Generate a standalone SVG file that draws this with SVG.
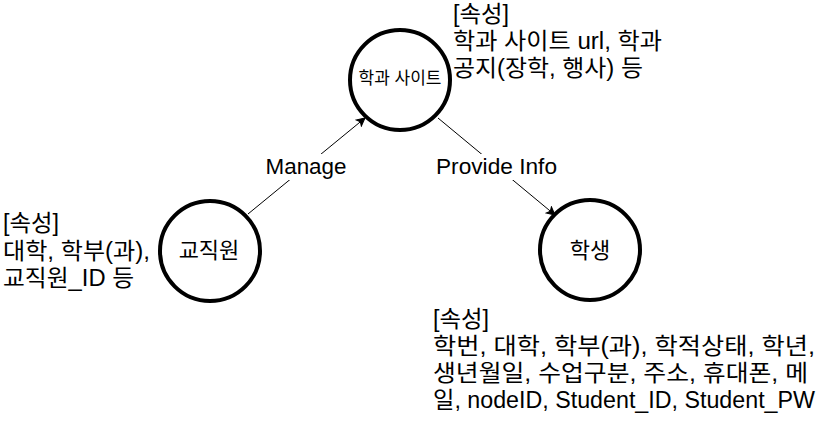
<svg xmlns="http://www.w3.org/2000/svg" width="822" height="423" viewBox="0 0 822 423">
<defs>
<style>
text{font-family:"Liberation Sans","Noto Sans CJK KR",sans-serif;fill:#000}
.t{font-size:23px}
.c{font-size:22px;text-anchor:middle}
.s{font-size:17px;text-anchor:middle}
.node{fill:#fff;stroke:#000;stroke-width:4}
.edge{stroke:#000;stroke-width:1;fill:none}
</style>
<marker id="arr" markerWidth="10" markerHeight="10" refX="9" refY="5" orient="auto" markerUnits="userSpaceOnUse">
<path d="M1,1 L9,5 L1,9 L3,5 Z" fill="#000" stroke="#000" stroke-width="1"/>
</marker>
</defs>
<rect width="822" height="423" fill="#fff"/>
<g id="connectors">
<line class="edge" x1="248" y1="214" x2="365" y2="118" marker-end="url(#arr)"/>
<rect x="262" y="154" width="90" height="26" fill="#fff"/>
<text class="c" x="306" y="174" textLength="81" lengthAdjust="spacingAndGlyphs">Manage</text>
<line class="edge" x1="438" y1="118" x2="555" y2="215" marker-end="url(#arr)"/>
<rect x="432" y="154" width="130" height="26" fill="#fff"/>
<text class="c" x="496.5" y="174" textLength="121" lengthAdjust="spacingAndGlyphs">Provide Info</text>
</g>
<g id="node-site">
<circle class="node" cx="400" cy="80" r="50"/>
<text class="s" x="400" y="84">학과 사이트</text>
</g>
<g id="node-staff">
<circle class="node" cx="210" cy="251" r="50"/>
<text class="c" x="209" y="258">교직원</text>
</g>
<g id="node-student">
<circle class="node" cx="590" cy="250" r="50"/>
<text class="c" x="590" y="258">학생</text>
</g>
<g id="attr-site">
<text class="t" x="453" y="22" textLength="56" lengthAdjust="spacingAndGlyphs">[속성]</text>
<text class="t" x="453" y="49" textLength="209" lengthAdjust="spacingAndGlyphs">학과 사이트 url, 학과</text>
<text class="t" x="453" y="76" textLength="190" lengthAdjust="spacingAndGlyphs">공지(장학, 행사) 등</text>
</g>
<g id="attr-staff">
<text class="t" x="3" y="231" textLength="56" lengthAdjust="spacingAndGlyphs">[속성]</text>
<text class="t" x="3" y="259" textLength="147" lengthAdjust="spacingAndGlyphs">대학, 학부(과),</text>
<text class="t" x="3" y="286" textLength="131" lengthAdjust="spacingAndGlyphs">교직원_ID 등</text>
</g>
<g id="attr-student">
<text class="t" x="433" y="327" textLength="56" lengthAdjust="spacingAndGlyphs">[속성]</text>
<text class="t" x="433" y="354" textLength="382" lengthAdjust="spacingAndGlyphs">학번, 대학, 학부(과), 학적상태, 학년,</text>
<text class="t" x="433" y="381" textLength="375" lengthAdjust="spacingAndGlyphs">생년월일, 수업구분, 주소, 휴대폰, 메</text>
<text class="t" x="433" y="408" textLength="382" lengthAdjust="spacingAndGlyphs">일, nodeID, Student_ID, Student_PW</text>
</g>
</svg>
